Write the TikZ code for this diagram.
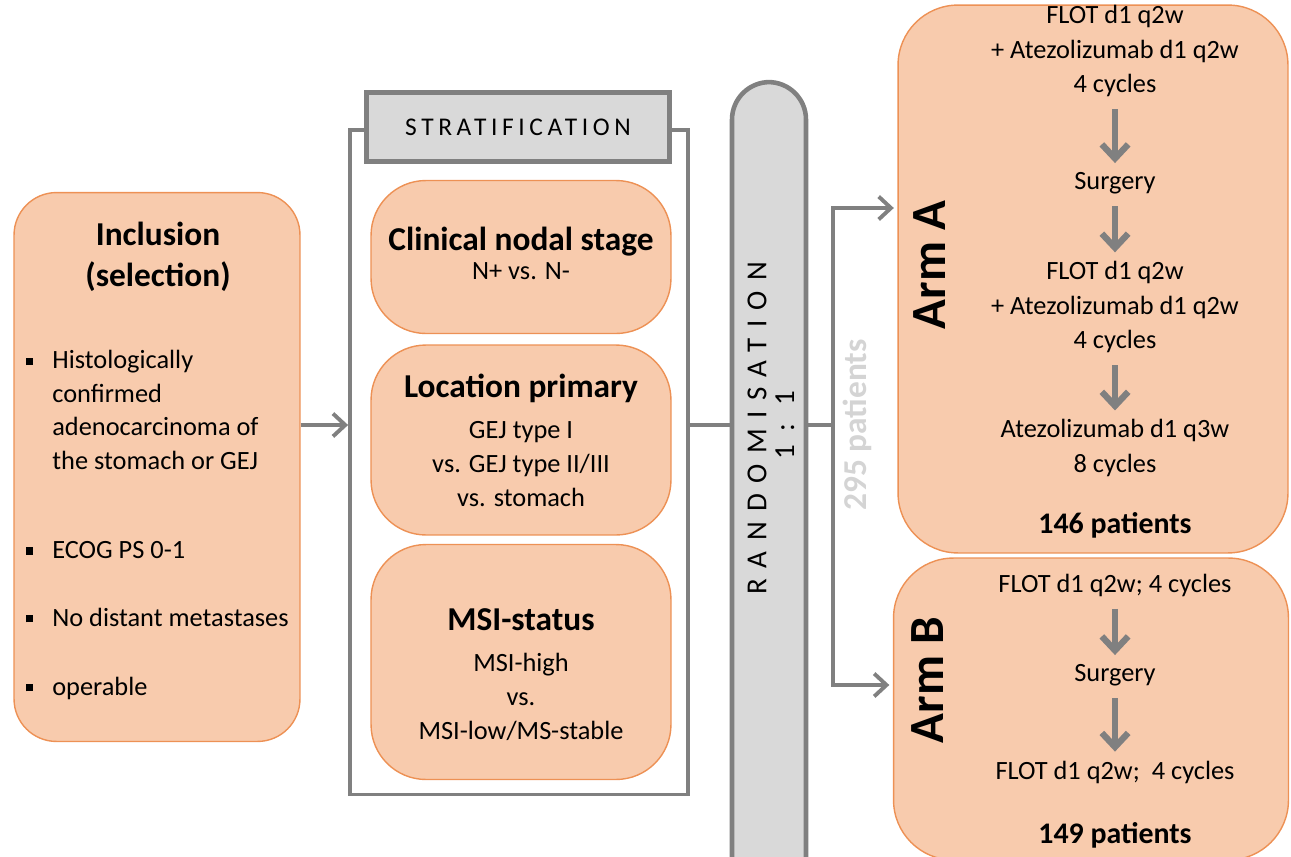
\documentclass[tikz,border=0pt]{standalone}
\usepackage{fontspec}
\setmainfont{Carlito}
\usetikzlibrary{arrows.meta,positioning}

\definecolor{peach}{RGB}{248,203,173}
\definecolor{peachline}{RGB}{237,145,85}
\definecolor{boxgray}{RGB}{217,217,217}
\definecolor{linegray}{RGB}{128,128,128}
\definecolor{faintgray}{RGB}{212,212,212}

\newcommand{\sqbullet}{\llap{\rule[0.3ex]{4.2pt}{4.2pt}\hspace{11pt}}}
\newcommand{\spaced}[2]{{\addfontfeatures{LetterSpace=#1}#2}}

\tikzset{
  panel/.style={draw=peachline, line width=0.8pt, fill=peach, rounded corners=#1, inner sep=0pt},
  graybox/.style={draw=linegray, line width=#1, fill=boxgray, inner sep=0pt},
  body/.style={font=\fontsize{15}{19.5}\selectfont, align=center, inner sep=0pt},
  title/.style={font=\fontsize{19}{23.5}\selectfont\bfseries, align=center, inner sep=0pt},
  itemtext/.style={font=\fontsize{15}{19}\selectfont, align=left, anchor=west, inner sep=0pt},
  link/.style={draw=linegray, line width=2.2pt},
  flow/.style={link, -{Straight Barb[length=7pt,width=13pt]}},
  stepflow/.style={draw=linegray, line width=3.6pt, -{Straight Barb[length=8pt,width=15pt]}},
}

\begin{document}
\begin{tikzpicture}[x=0.02cm, y=-0.02cm]
  \useasboundingbox (0,0) rectangle (1291,856);
  \clip (0,0) rectangle (1291,856);

  % inclusion
  \node[panel=0.85cm, minimum width=5.72cm, minimum height=10.98cm] (incl) at (157,467) {};
  \node[title] (incltitle) at (158,257) {Inclusion\\(selection)};
  \node[itemtext] (item1) at (52,410) {\sqbullet Histologically\\confirmed\\adenocarcinoma of\\the stomach or GEJ};
  \node[itemtext] (item2) at (52,550) {\sqbullet ECOG PS 0-1};
  \node[itemtext] (item3) at (52,617) {\sqbullet No distant metastases};
  \node[itemtext] (item4) at (52,688) {\sqbullet operable};

  % stratification
  \node[draw=linegray, line width=2.2pt, minimum width=6.76cm, minimum height=13.3cm, inner sep=0pt] (stratframe) at (519,462) {};
  \node[graybox=3pt, minimum width=6.06cm, minimum height=1.38cm, font=\fontsize{14.5}{17}\selectfont] (strathead) at (518,127) {\spaced{18}{STRATIFICATION}};
  \node[panel=1.1cm, minimum width=6cm, minimum height=3.06cm] (nodal) at (521,257) {};
  \node[panel=1.1cm, minimum width=6cm, minimum height=3.8cm] (location) at (521,440) {};
  \node[panel=1.1cm, minimum width=6cm, minimum height=4.7cm] (msi) at (521,662) {};
  \node[title] (nodaltitle) at (521,242) {Clinical nodal stage};
  \node[body] (nodaltext) at (521,271) {N+ vs. N-};
  \node[title] (loctitle) at (521,388) {Location primary};
  \node[body] (loctext) at (521,464) {GEJ type I\\vs. GEJ type II/III\\vs. stomach};
  \node[title] (msititle) at (521,620) {MSI-status};
  \node[body] (msitext) at (521,697) {MSI-high\\vs.\\MSI-low/MS-stable};

  % randomisation
  \node[graybox=2.6pt, rounded corners=0.75cm, minimum width=1.48cm, minimum height=16.4cm] (rand) at (769,492) {};
  \node[rotate=90, inner sep=0pt, font=\fontsize{16.5}{19}\selectfont] (randtext) at (757,428) {\spaced{36}{RANDOMISATION}};
  \node[rotate=90, inner sep=0pt, font=\fontsize{16.5}{19}\selectfont] (ratio) at (785,425) {\spaced{25}{1 : 1}};
  \node[rotate=90, inner sep=0pt, font=\fontsize{19}{22}\selectfont\bfseries, text=faintgray] (total) at (857,425) {295 patients};

  % arms
  \node[panel=1.2cm, minimum width=7.8cm, minimum height=10.96cm] (armA) at (1093,279) {};
  \node[panel=1.2cm, minimum width=7.9cm, minimum height=6.04cm] (armB) at (1091,709) {};
  \node[rotate=90, inner sep=0pt, font=\fontsize{28}{32}\selectfont\bfseries] (armAlabel) at (930,265) {Arm A};
  \node[rotate=90, inner sep=0pt, font=\fontsize{28}{32}\selectfont\bfseries] (armBlabel) at (928,680) {Arm B};

  \node[body] (a1) at (1115,51) {FLOT d1 q2w\\+ Atezolizumab d1 q2w\\4 cycles};
  \node[body] (a2) at (1115,183) {Surgery};
  \node[body] (a3) at (1115,307) {FLOT d1 q2w\\+ Atezolizumab d1 q2w\\4 cycles};
  \node[body] (a4) at (1115,448) {Atezolizumab d1 q3w\\8 cycles};
  \node[title, font=\fontsize{17}{20}\selectfont\bfseries] (acount) at (1115,525) {146 patients};

  \node[body] (b1) at (1115,585) {FLOT d1 q2w; 4 cycles};
  \node[body] (b2) at (1115,675) {Surgery};
  \node[body] (b3) at (1115,772) {FLOT d1 q2w;\ \ 4 cycles};
  \node[title, font=\fontsize{17}{20}\selectfont\bfseries] (bcount) at (1115,835) {149 patients};

  \draw[stepflow, shorten <=7pt, shorten >=5pt] (a1) -- (a2);
  \draw[stepflow, shorten <=7pt, shorten >=5pt] (a2) -- (a3);
  \draw[stepflow, shorten <=7pt, shorten >=5pt] (a3) -- (a4);
  \draw[stepflow, shorten <=7pt, shorten >=5pt] (b1) -- (b2);
  \draw[stepflow, shorten <=7pt, shorten >=5pt] (b2) -- (b3);

  % connectors
  \coordinate (mid) at (0,425);
  \coordinate (split) at (833,425);
  \coordinate (toA) at (833,208);
  \coordinate (toB) at (833,685);
  \draw[flow] (incl.east |- mid) -- (stratframe.west |- mid);
  \draw[link] (stratframe.east |- mid) -- (rand.west |- mid);
  \draw[link] (rand.east |- mid) -- (split);
  \draw[flow] (split) -- (toA) -- ([xshift=-2pt]armA.west |- toA);
  \draw[flow] (split) -- (toB) -- ([xshift=-2pt]armB.west |- toB);
\end{tikzpicture}
\end{document}
